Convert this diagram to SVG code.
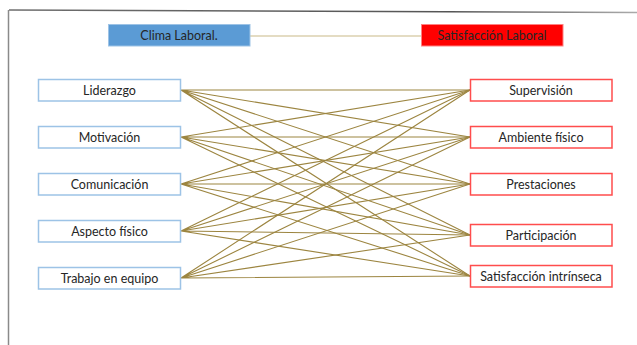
<svg xmlns="http://www.w3.org/2000/svg" width="637" height="345" viewBox="0 0 637 345">
  <defs>
    <linearGradient id="frameTop" x1="0" y1="0" x2="1" y2="0">
      <stop offset="0" stop-color="#6e6e6e"/>
      <stop offset="0.7" stop-color="#555"/>
      <stop offset="1" stop-color="#aaa"/>
    </linearGradient>
    <style>
      .lbl { font-family: Lato, "Liberation Sans", sans-serif; font-size: 12.5px; fill: #262626; text-anchor: middle; dominant-baseline: central; }
      .dim { fill: #fff; stroke: #9dc3e6; stroke-width: 1.5; }
      .sat { fill: #fff; stroke: #ff4d4d; stroke-width: 1.5; }
      .link { stroke: #9c8540; stroke-width: 1.1; fill: none; }
      .head { stroke: #c9b988; stroke-width: 1.2; fill: none; }
    </style>
  </defs>

  <rect width="637" height="345" fill="#fff"/>

  <!-- page frame -->
  <line x1="9" y1="10" x2="637" y2="12.5" stroke="url(#frameTop)" stroke-width="1.5"/>
  <line x1="8.5" y1="10" x2="8.5" y2="345" stroke="#8a8a8a" stroke-width="1.5"/>

  <!-- connectors -->
  <g id="connectors">
    <line class="head" x1="250" y1="36" x2="421" y2="36"/>
    <g class="link">
      <path d="M181 90 L470 90 M181 90 L470 137 M181 90 L470 184 M181 90 L470 235 M181 90 L470 276"/>
      <path d="M181 137 L470 90 M181 137 L470 137 M181 137 L470 184 M181 137 L470 235 M181 137 L470 276"/>
      <path d="M181 184 L470 90 M181 184 L470 137 M181 184 L470 184 M181 184 L470 235 M181 184 L470 276"/>
      <path d="M181 231 L470 90 M181 231 L470 137 M181 231 L470 184 M181 231 L470 235 M181 231 L470 276"/>
      <path d="M181 278 L470 90 M181 278 L470 137 M181 278 L470 184 M181 278 L470 235 M181 278 L470 276"/>
    </g>
  </g>

  <!-- headers -->
  <g id="clima-laboral">
    <rect x="108.5" y="24.5" width="141.5" height="21.5" fill="#5b9bd5" stroke="#9dc3e6" stroke-width="1"/>
    <text class="lbl" x="179" y="35.5">Clima Laboral.</text>
  </g>
  <g id="satisfaccion-laboral">
    <rect x="421.5" y="24.5" width="141.5" height="21.5" fill="#ff0000" stroke="#ff8080" stroke-width="1"/>
    <text class="lbl" x="492" y="35.5">Satisfacción Laboral</text>
  </g>

  <!-- climate dimensions -->
  <g id="liderazgo">
    <rect class="dim" x="38.5" y="79.5" width="142" height="21.5"/>
    <text class="lbl" x="109.5" y="90">Liderazgo</text>
  </g>
  <g id="motivacion">
    <rect class="dim" x="38.5" y="126.5" width="142" height="21.5"/>
    <text class="lbl" x="109.5" y="137">Motivación</text>
  </g>
  <g id="comunicacion">
    <rect class="dim" x="38.5" y="173.5" width="142" height="21.5"/>
    <text class="lbl" x="109.5" y="184">Comunicación</text>
  </g>
  <g id="aspecto-fisico">
    <rect class="dim" x="38.5" y="220.5" width="142" height="21.5"/>
    <text class="lbl" x="109.5" y="231">Aspecto físico</text>
  </g>
  <g id="trabajo-en-equipo">
    <rect class="dim" x="38.5" y="267.5" width="142" height="21.5"/>
    <text class="lbl" x="109.5" y="278">Trabajo en equipo</text>
  </g>

  <!-- satisfaction dimensions -->
  <g id="supervision">
    <rect class="sat" x="470.5" y="79.5" width="141.5" height="21.5"/>
    <text class="lbl" x="541" y="90">Supervisión</text>
  </g>
  <g id="ambiente-fisico">
    <rect class="sat" x="470.5" y="126.5" width="141.5" height="21.5"/>
    <text class="lbl" x="541" y="137">Ambiente físico</text>
  </g>
  <g id="prestaciones">
    <rect class="sat" x="470.5" y="173.5" width="141.5" height="21.5"/>
    <text class="lbl" x="541" y="184">Prestaciones</text>
  </g>
  <g id="participacion">
    <rect class="sat" x="470.5" y="224.5" width="141.5" height="21.5"/>
    <text class="lbl" x="541" y="235">Participación</text>
  </g>
  <g id="satisfaccion-intrinseca">
    <rect class="sat" x="470.5" y="265.5" width="141.5" height="21.5"/>
    <text class="lbl" x="541" y="276">Satisfacción intrínseca</text>
  </g>
</svg>
